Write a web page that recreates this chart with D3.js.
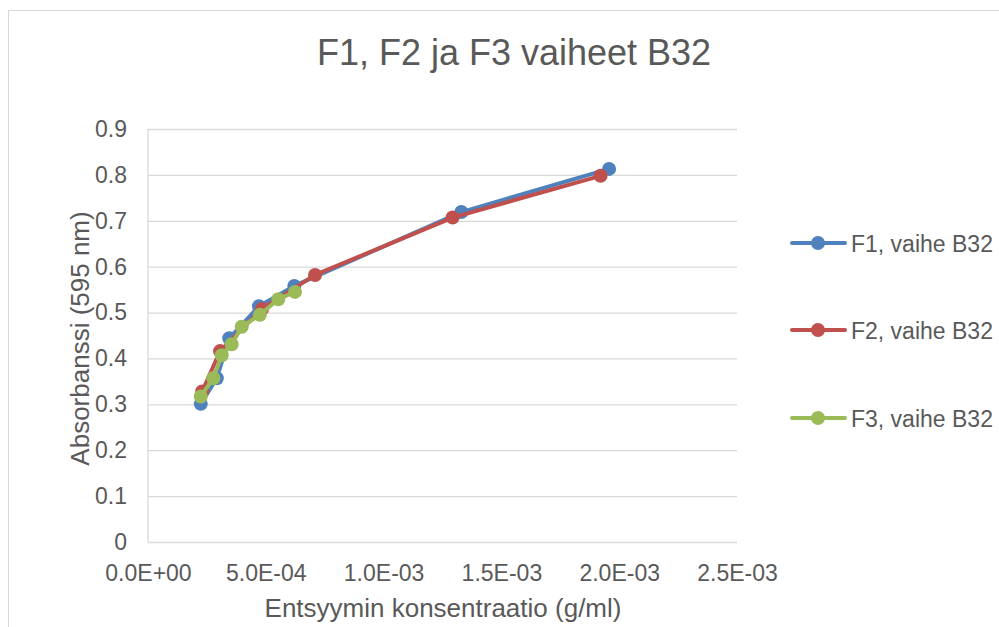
<!DOCTYPE html>
<html>
<head>
<meta charset="utf-8">
<script src="https://cdn.jsdelivr.net/npm/d3@7"></script>
<style>
  html, body { margin: 0; padding: 0; background: #ffffff; }
  svg { display: block; font-family: Arial, "Liberation Sans", sans-serif; }
</style>
</head>
<body>
<svg id="chart" width="999" height="627"></svg>
<script>
// Enzyme concentration (g/ml) vs absorbance at 595 nm, phase B32
const f1Conc = [0.000224, 0.000292, 0.000345, 0.000471, 0.000621, 0.00133, 0.001957];
const f1Abs  = [0.301, 0.357, 0.444, 0.514, 0.558, 0.719, 0.813];

const f2Conc = [0.000230, 0.000306, 0.000484, 0.000709, 0.001293, 0.001921];
const f2Abs  = [0.328, 0.416, 0.508, 0.582, 0.707, 0.798];

const f3Conc = [0.000224, 0.000277, 0.000313, 0.000355, 0.000398, 0.000475, 0.000553, 0.000624];
const f3Abs  = [0.317, 0.357, 0.407, 0.431, 0.469, 0.495, 0.529, 0.545];

const seriesNames = ["F1, vaihe B32", "F2, vaihe B32", "F3, vaihe B32"];
const seriesColors = ["#4F81BD", "#C0504D", "#9BBB59"];

const xTicks = [0, 0.0005, 0.001, 0.0015, 0.002, 0.0025];
const yTicks = [0, 0.1, 0.2, 0.3, 0.4, 0.5, 0.6, 0.7, 0.8, 0.9];

const chartTitle = "F1, F2 ja F3 vaiheet B32";
const xTitle = "Entsyymin konsentraatio (g/ml)";
const yTitle = "Absorbanssi (595 nm)";

const series = [
  { name: seriesNames[0], color: seriesColors[0], pts: f1Conc.map((c, i) => [c, f1Abs[i]]) },
  { name: seriesNames[1], color: seriesColors[1], pts: f2Conc.map((c, i) => [c, f2Abs[i]]) },
  { name: seriesNames[2], color: seriesColors[2], pts: f3Conc.map((c, i) => [c, f3Abs[i]]) }
];

const svg = d3.select("#chart");
const textColor = "#595959";
const gridColor = "#d9d9d9";

// outer chart frame
svg.append("rect")
  .attr("x", 8.5).attr("y", 10.5)
  .attr("width", 1100).attr("height", 700)
  .attr("fill", "#fff").attr("stroke", gridColor).attr("stroke-width", 1);

const plot = { left: 148, right: 737, top: 129, bottom: 542 };
const x = d3.scaleLinear().domain([0, 0.0025]).range([plot.left, plot.right]);
const y = d3.scaleLinear().domain([0, 0.9]).range([plot.bottom, plot.top]);

// horizontal gridlines
const yAxis = d3.axisLeft(y).tickValues(yTicks)
  .tickSize(-(plot.right - plot.left)).tickPadding(20)
  .tickFormat(d => d === 0 ? "0" : d3.format(".1f")(d));
const gy = svg.append("g").attr("transform", `translate(${plot.left},0)`).call(yAxis);
gy.select(".domain").remove();
gy.selectAll(".tick line").attr("stroke", gridColor).attr("stroke-width", 1.3);
gy.selectAll(".tick text").attr("fill", textColor).attr("font-size", 23).attr("x", -21);

// vertical axis line
svg.append("line")
  .attr("x1", plot.left).attr("x2", plot.left)
  .attr("y1", plot.top).attr("y2", plot.bottom)
  .attr("stroke", gridColor).attr("stroke-width", 1.3);

// x axis labels
const xAxis = d3.axisBottom(x).tickValues(xTicks).tickSize(0).tickPadding(0)
  .tickFormat(d => {
    if (d === 0) return "0.0E+00";
    const e = Math.floor(Math.log10(d) + 1e-9);
    const m = d / Math.pow(10, e);
    return m.toFixed(1) + "E" + (e < 0 ? "-" : "+") + String(Math.abs(e)).padStart(2, "0");
  });
const gx = svg.append("g").attr("transform", `translate(0,${plot.bottom})`).call(xAxis);
gx.select(".domain").remove();
gx.selectAll(".tick text").attr("fill", textColor).attr("font-size", 23)
  .attr("dy", null).attr("y", 39);

// series: line then markers
const line = d3.line().x(d => x(d[0])).y(d => y(d[1]));
series.forEach(s => {
  const g = svg.append("g");
  g.append("path").datum(s.pts)
    .attr("d", line).attr("fill", "none")
    .attr("stroke", s.color).attr("stroke-width", 4)
    .attr("stroke-linejoin", "round").attr("stroke-linecap", "round");
  g.selectAll("circle").data(s.pts).join("circle")
    .attr("cx", d => x(d[0])).attr("cy", d => y(d[1]))
    .attr("r", 7).attr("fill", s.color);
});

// titles
svg.append("text").attr("x", 514).attr("y", 65)
  .attr("text-anchor", "middle").attr("font-size", 36).attr("fill", textColor)
  .text(chartTitle);
svg.append("text").attr("x", 443).attr("y", 617)
  .attr("text-anchor", "middle").attr("font-size", 26).attr("fill", textColor)
  .text(xTitle);
svg.append("text")
  .attr("transform", `translate(89,${(plot.top + plot.bottom) / 2 + 3}) rotate(-90)`)
  .attr("text-anchor", "middle").attr("font-size", 26).attr("fill", textColor)
  .text(yTitle);

// legend
const legendY = [243, 330, 418];
series.forEach((s, i) => {
  const g = svg.append("g").attr("transform", `translate(0,${legendY[i]})`);
  g.append("line").attr("x1", 792).attr("x2", 845).attr("y1", 0).attr("y2", 0)
    .attr("stroke", s.color).attr("stroke-width", 4).attr("stroke-linecap", "round");
  g.append("circle").attr("cx", 818).attr("cy", 0).attr("r", 7).attr("fill", s.color);
  g.append("text").attr("x", 851).attr("y", 8.5)
    .attr("font-size", 23).attr("fill", textColor).text(s.name);
});
</script>
</body>
</html>
